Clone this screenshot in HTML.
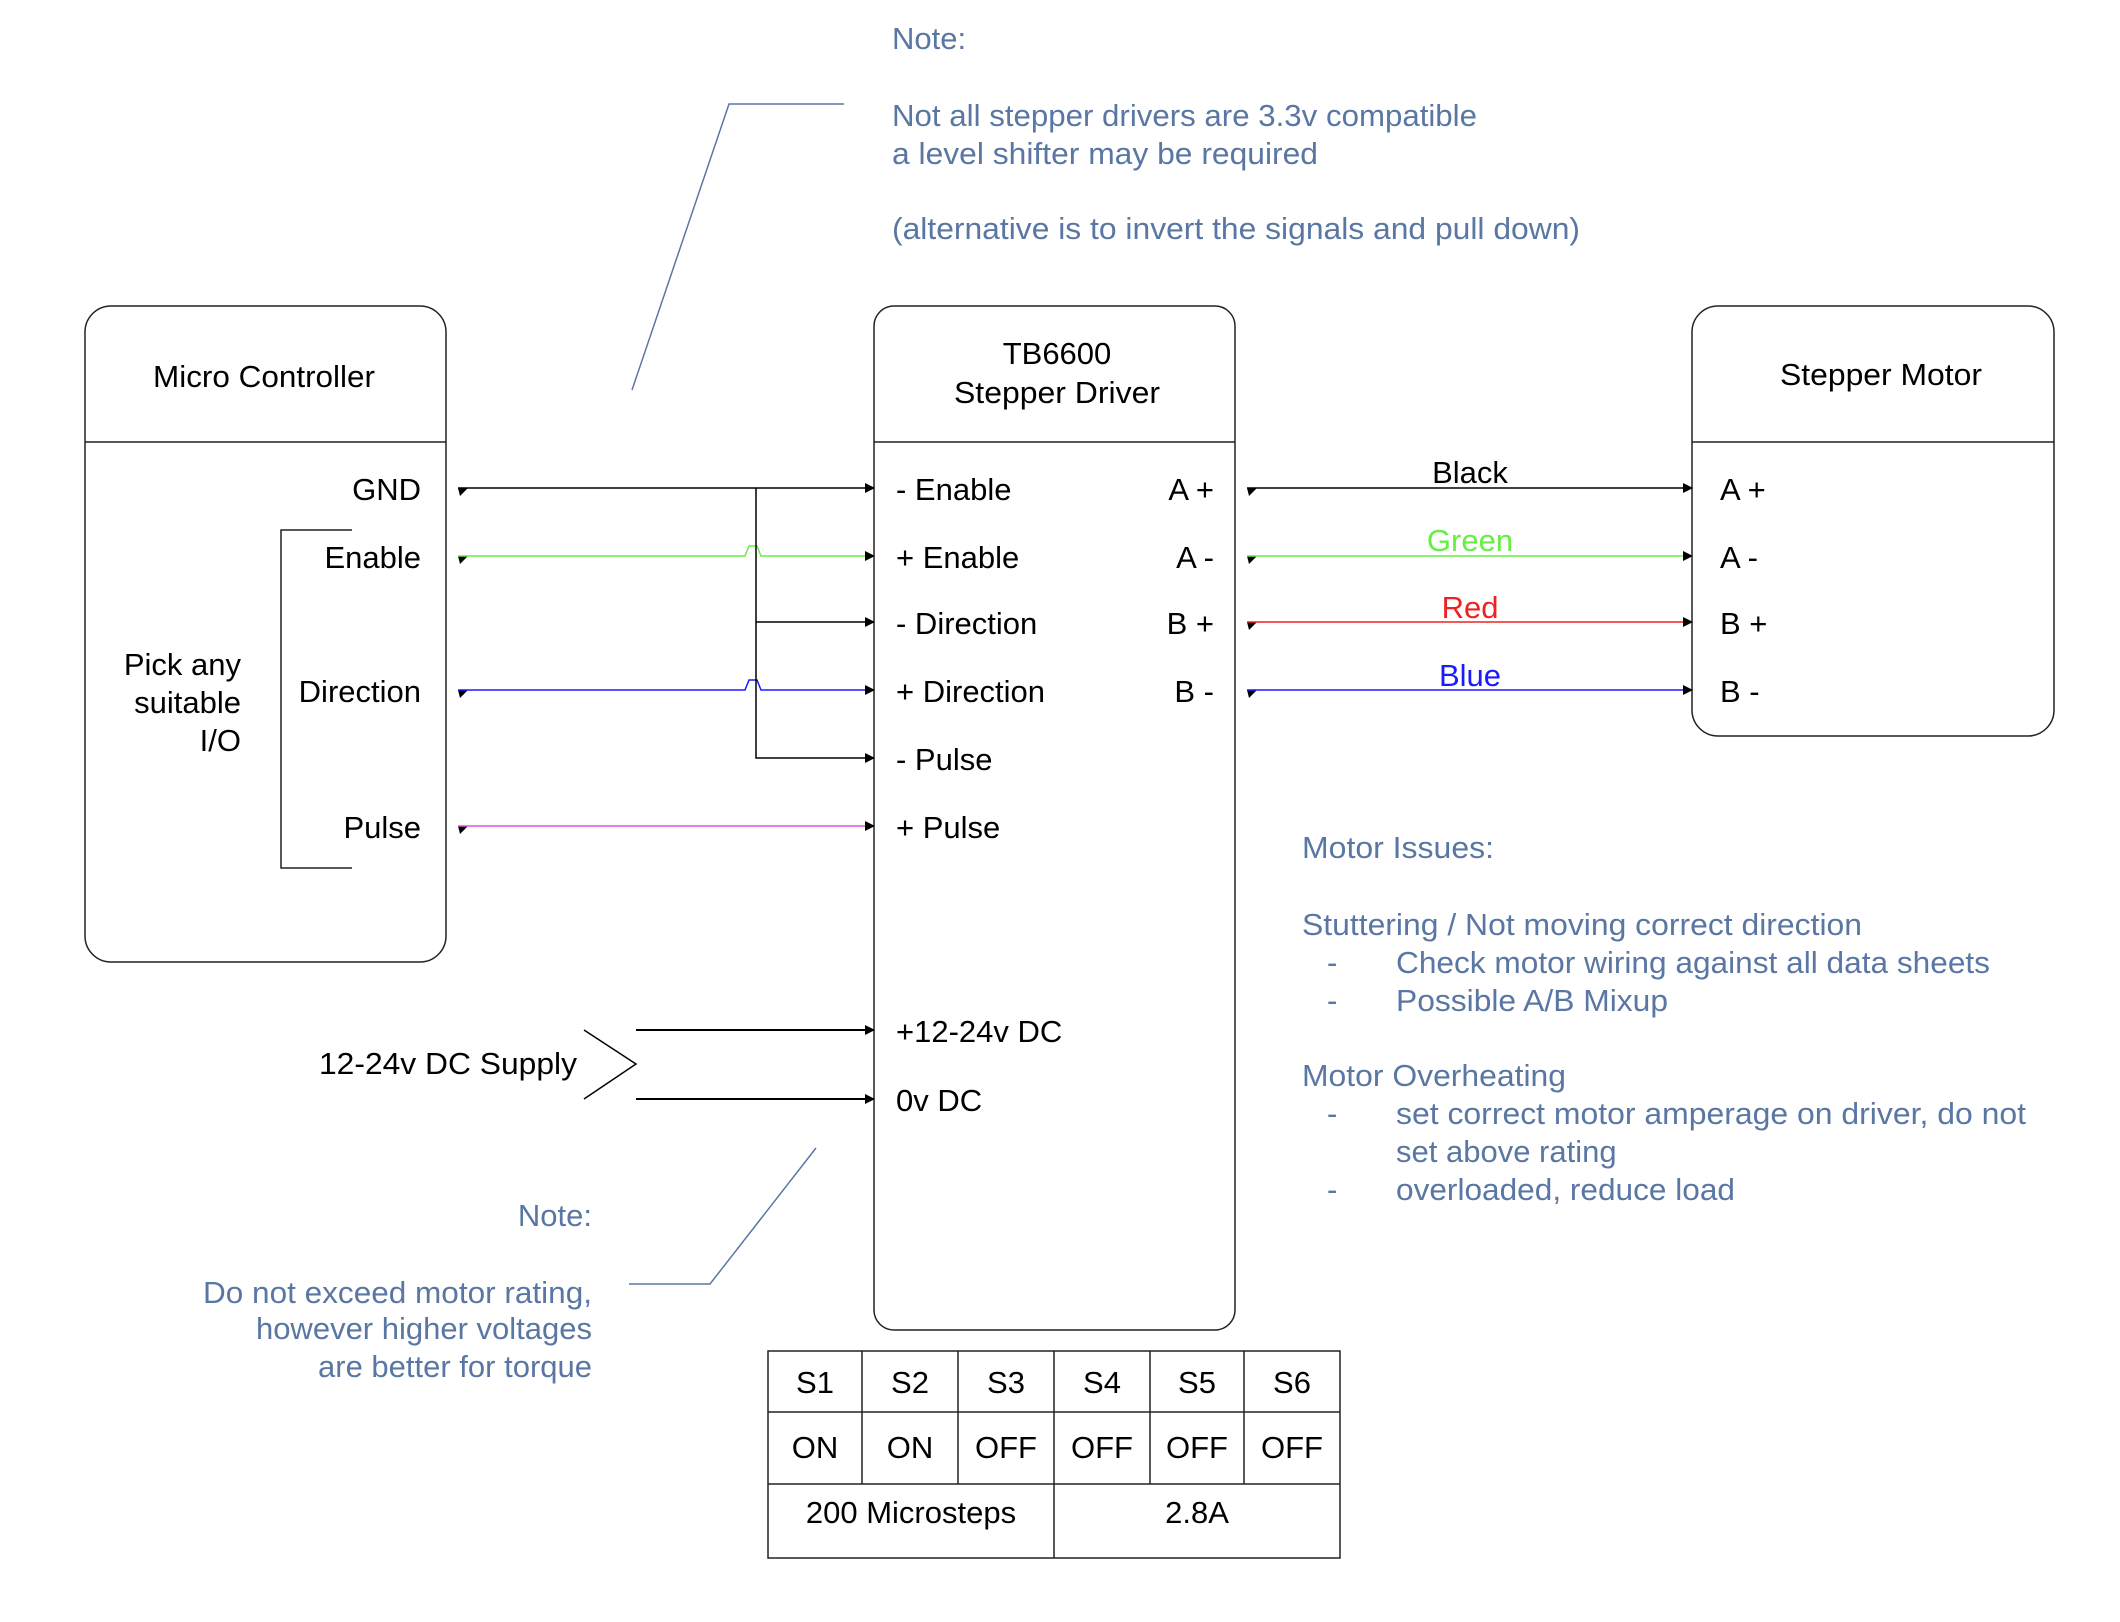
<!DOCTYPE html>
<html><head><meta charset="utf-8"><style>
html,body{margin:0;padding:0;background:#fff;}
svg{display:block;}
text{font-family:"Liberation Sans",Arial,sans-serif;font-size:31px;fill:#000;letter-spacing:0px;}
.n{fill:#5a77a3;}
</style></head><body>
<svg width="2120" height="1622" viewBox="0 0 2120 1622" xmlns="http://www.w3.org/2000/svg">
<defs>
<marker id="a" markerWidth="10" markerHeight="10" refX="9" refY="5" orient="auto" markerUnits="userSpaceOnUse">
<path d="M0,0 L10,5 L0,10 Z" fill="#000"/></marker>
</defs>
<g fill="none" stroke="#222" stroke-width="1.5">
<rect x="85" y="306" width="361" height="656" rx="26"/>
<line x1="85" y1="442" x2="446" y2="442"/>
<rect x="874" y="306" width="361" height="1024" rx="20"/>
<line x1="874" y1="442" x2="1235" y2="442"/>
<rect x="1692" y="306" width="362" height="430" rx="26"/>
<line x1="1692" y1="442" x2="2054" y2="442"/>
<polyline points="352,530 281,530 281,868 352,868"/>
</g>
<g fill="#000">
<path d="M458,488 h10 l-8,8z"/><path d="M458,556 h10 l-8,8z"/><path d="M458,690 h10 l-8,8z"/><path d="M458,826 h10 l-8,8z"/>
<path d="M1247,488 h10 l-8,8z"/><path d="M1247,556 h10 l-8,8z"/><path d="M1247,622 h10 l-8,8z"/><path d="M1247,690 h10 l-8,8z"/>
</g>
<g fill="none" stroke-width="1.5">
<line x1="458" y1="488" x2="874" y2="488" stroke="#000" marker-end="url(#a)"/>
<path d="M458,556 H745 l4,-10 h8 l4,10 H874" stroke="#66ee44" marker-end="url(#a)"/>
<path d="M458,690 H745 l4,-10 h8 l4,10 H874" stroke="#1a1aff" marker-end="url(#a)"/>
<line x1="458" y1="826" x2="874" y2="826" stroke="#dd55dd" marker-end="url(#a)"/>
<polyline points="756,488 756,758 874,758" stroke="#000" marker-end="url(#a)"/>
<line x1="756" y1="622" x2="874" y2="622" stroke="#000" marker-end="url(#a)"/>
<line x1="636" y1="1030" x2="874" y2="1030" stroke="#000" stroke-width="2" marker-end="url(#a)"/>
<line x1="636" y1="1099" x2="874" y2="1099" stroke="#000" stroke-width="2" marker-end="url(#a)"/>
<polyline points="584,1030 636,1064 584,1099" stroke="#000"/>
<line x1="1247" y1="488" x2="1692" y2="488" stroke="#000" marker-end="url(#a)"/>
<line x1="1247" y1="556" x2="1692" y2="556" stroke="#66ee44" marker-end="url(#a)"/>
<line x1="1247" y1="622" x2="1692" y2="622" stroke="#ee2222" marker-end="url(#a)"/>
<line x1="1247" y1="690" x2="1692" y2="690" stroke="#1a1aff" marker-end="url(#a)"/>
<polyline points="632,390 729,104 844,104" stroke="#5a77a3"/>
<polyline points="816,1148 710,1284 629,1284" stroke="#5a77a3"/>
</g>
<g fill="none" stroke="#222" stroke-width="1.5">
<rect x="768" y="1351" width="572" height="207"/>
<line x1="768" y1="1412" x2="1340" y2="1412"/>
<line x1="768" y1="1484" x2="1340" y2="1484"/>
<line x1="862" y1="1351" x2="862" y2="1484"/>
<line x1="958" y1="1351" x2="958" y2="1484"/>
<line x1="1054" y1="1351" x2="1054" y2="1558"/>
<line x1="1150" y1="1351" x2="1150" y2="1484"/>
<line x1="1244" y1="1351" x2="1244" y2="1484"/>
</g>
<g text-anchor="middle">
<text x="815" y="1393">S1</text><text x="910" y="1393">S2</text><text x="1006" y="1393">S3</text><text x="1102" y="1393">S4</text><text x="1197" y="1393">S5</text><text x="1292" y="1393">S6</text>
<text x="815" y="1458">ON</text><text x="910" y="1458">ON</text><text x="1006" y="1458">OFF</text><text x="1102" y="1458">OFF</text><text x="1197" y="1458">OFF</text><text x="1292" y="1458">OFF</text>
<text x="911" y="1523">200 Microsteps</text><text x="1197" y="1523">2.8A</text>
<text x="264" y="387" textLength="222" lengthAdjust="spacingAndGlyphs">Micro Controller</text>
<text x="1057" y="364">TB6600</text>
<text x="1057" y="403" textLength="206" lengthAdjust="spacingAndGlyphs">Stepper Driver</text>
<text x="1881" y="385" textLength="202" lengthAdjust="spacingAndGlyphs">Stepper Motor</text>
<text x="1470" y="483">Black</text>
<text x="1470" y="551" style="fill:#66ee44">Green</text>
<text x="1470" y="618" style="fill:#ee2222">Red</text>
<text x="1470" y="686" style="fill:#1a1aff">Blue</text>
</g>
<g text-anchor="end">
<text x="421" y="500">GND</text>
<text x="421" y="568">Enable</text>
<text x="421" y="702">Direction</text>
<text x="421" y="838">Pulse</text>
<text x="241" y="675">Pick any</text>
<text x="241" y="713">suitable</text>
<text x="241" y="751">I/O</text>
<text x="577" y="1074" textLength="258" lengthAdjust="spacingAndGlyphs">12-24v DC Supply</text>
<text x="1214" y="500">A +</text>
<text x="1214" y="568">A -</text>
<text x="1214" y="634">B +</text>
<text x="1214" y="702">B -</text>
<text class="n" x="592" y="1226">Note:</text>
<text class="n" x="592" y="1303" textLength="389" lengthAdjust="spacingAndGlyphs">Do not exceed motor rating,</text>
<text class="n" x="592" y="1339">however higher voltages</text>
<text class="n" x="592" y="1377">are better for torque</text>
</g>
<g>
<text x="896" y="500">- Enable</text>
<text x="896" y="568">+ Enable</text>
<text x="896" y="634">- Direction</text>
<text x="896" y="702">+ Direction</text>
<text x="896" y="770">- Pulse</text>
<text x="896" y="838">+ Pulse</text>
<text x="896" y="1042">+12-24v DC</text>
<text x="896" y="1111">0v DC</text>
<text x="1720" y="500">A +</text>
<text x="1720" y="568">A -</text>
<text x="1720" y="634">B +</text>
<text x="1720" y="702">B -</text>
<text class="n" x="892" y="49">Note:</text>
<text class="n" x="892" y="126" textLength="585" lengthAdjust="spacingAndGlyphs">Not all stepper drivers are 3.3v compatible</text>
<text class="n" x="892" y="164" textLength="426" lengthAdjust="spacingAndGlyphs">a level shifter may be required</text>
<text class="n" x="892" y="239" textLength="688" lengthAdjust="spacingAndGlyphs">(alternative is to invert the signals and pull down)</text>
<text class="n" x="1302" y="858" textLength="192" lengthAdjust="spacingAndGlyphs">Motor Issues:</text>
<text class="n" x="1302" y="935" textLength="560" lengthAdjust="spacingAndGlyphs">Stuttering / Not moving correct direction</text>
<text class="n" x="1327" y="973">-</text><text class="n" x="1396" y="973" textLength="594" lengthAdjust="spacingAndGlyphs">Check motor wiring against all data sheets</text>
<text class="n" x="1327" y="1011">-</text><text class="n" x="1396" y="1011" textLength="272" lengthAdjust="spacingAndGlyphs">Possible A/B Mixup</text>
<text class="n" x="1302" y="1086" textLength="264" lengthAdjust="spacingAndGlyphs">Motor Overheating</text>
<text class="n" x="1327" y="1124">-</text><text class="n" x="1396" y="1124" textLength="630" lengthAdjust="spacingAndGlyphs">set correct motor amperage on driver, do not</text>
<text class="n" x="1396" y="1162">set above rating</text>
<text class="n" x="1327" y="1200">-</text><text class="n" x="1396" y="1200" textLength="339" lengthAdjust="spacingAndGlyphs">overloaded, reduce load</text>
</g>
</svg>
</body></html>
